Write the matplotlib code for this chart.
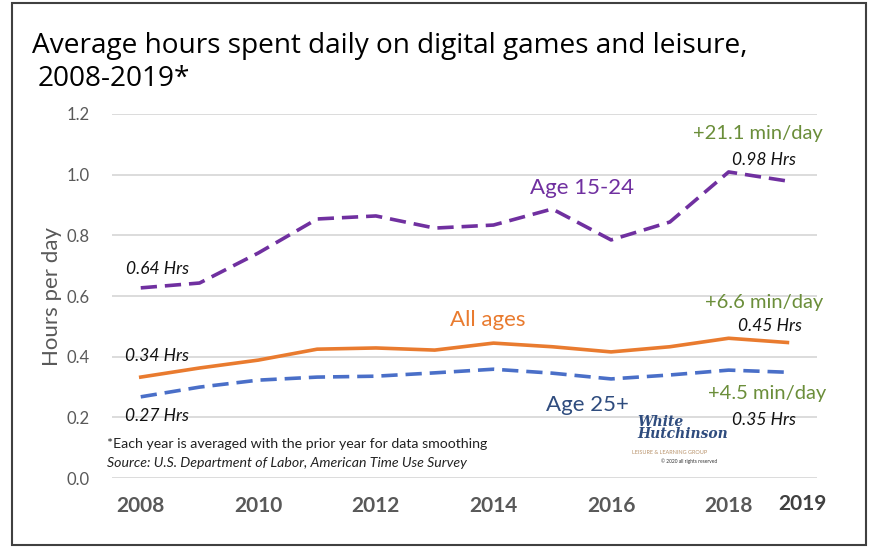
import matplotlib.pyplot as plt
from matplotlib.patches import Rectangle

plt.rcParams['font.family'] = ['Lato', 'DejaVu Sans']

years = [2008, 2009, 2010, 2011, 2012, 2013, 2014, 2015, 2016, 2017, 2018, 2019]
age_15_24 = [0.627, 0.643, 0.742, 0.854, 0.864, 0.824, 0.834, 0.887, 0.785, 0.844, 1.009, 0.979]
all_ages = [0.333, 0.363, 0.389, 0.425, 0.429, 0.422, 0.445, 0.433, 0.416, 0.433, 0.461, 0.447]
age_25_plus = [0.268, 0.300, 0.323, 0.333, 0.336, 0.347, 0.359, 0.346, 0.327, 0.340, 0.356, 0.349]
x_ticks = [2008, 2010, 2012, 2014, 2016, 2018]
y_ticks = [0.0, 0.2, 0.4, 0.6, 0.8, 1.0, 1.2]

purple = '#7030A0'
orange = '#E97B2F'
blue = '#4A6FC8'
navy = '#2F4C7E'
green = '#6B8E3A'
gray = '#595959'

fig = plt.figure(figsize=(8.8, 5.56), dpi=100)
ax = fig.add_axes([0.127, 0.140, 0.801, 0.655])

ax.plot(years, age_15_24, color=purple, lw=2.6, dashes=(4.5, 2.2))
ax.plot(years, all_ages, color=orange, lw=2.6)
ax.plot(years, age_25_plus, color=blue, lw=2.6, dashes=(4.5, 2.2))

ax.set_xlim(2007.507, 2019.497)
ax.set_ylim(0, 1.2)
ax.set_yticks(y_ticks)
ax.set_yticklabels(['%.1f' % v for v in y_ticks], color=gray, fontsize=12)
ax.set_xticks(x_ticks)
ax.set_xticklabels([str(v) for v in x_ticks], color=gray, fontsize=15, fontweight='bold')
ax.tick_params(axis='both', length=0)
ax.tick_params(axis='y', pad=16)
ax.tick_params(axis='x', pad=13)
ax.text(2019.25, -0.085, '2019', color='#404040', fontsize=15, fontweight='bold',
        ha='center', va='center')
for s in ax.spines.values():
    s.set_visible(False)
ax.grid(axis='y', color='#D9D9D9', lw=1.3)
ax.set_axisbelow(True)
ax.set_ylabel('Hours per day', color=gray, fontsize=16, labelpad=3)

# series labels
ax.text(2015.5, 0.955, 'Age 15-24', color=purple, fontsize=16, ha='center', va='center')
ax.text(2013.9, 0.52, 'All ages', color=orange, fontsize=16, ha='center', va='center')
ax.text(2015.6, 0.24, 'Age 25+', color=navy, fontsize=16, ha='center', va='center')

# change annotations
ax.text(2018.5, 1.135, '+21.1 min/day', color=green, fontsize=14.5, ha='center', va='center')
ax.text(2018.6, 0.58, '+6.6 min/day', color=green, fontsize=14.5, ha='center', va='center')
ax.text(2018.65, 0.28, '+4.5 min/day', color=green, fontsize=14.5, ha='center', va='center')

hrs_kw = dict(color='#111111', fontsize=12.5, style='italic', ha='center', va='center')
ax.text(2018.6, 1.05, '0.98 Hrs', **hrs_kw)
ax.text(2018.7, 0.5, '0.45 Hrs', **hrs_kw)
ax.text(2018.6, 0.19, '0.35 Hrs', **hrs_kw)
ax.text(2008.28, 0.69, '0.64 Hrs', **hrs_kw)
ax.text(2008.28, 0.403, '0.34 Hrs', **hrs_kw)
ax.text(2008.28, 0.205, '0.27 Hrs', **hrs_kw)

# footnote
ax.text(2007.43, 0.112, '*Each year is averaged with the prior year for data smoothing',
        color='#222222', fontsize=10.2, ha='left', va='center')
ax.text(2007.43, 0.05, 'Source: U.S. Department of Labor, American Time Use Survey',
        color='#222222', fontsize=10.2, style='italic', ha='left', va='center')

# logo text
ax.text(2016.45, 0.165, 'White\nHutchinson', color=navy, fontsize=10, style='italic',
        fontweight='bold', family='DejaVu Serif', ha='left', va='center', linespacing=0.75)
ax.text(2016.35, 0.085, 'LEISURE & LEARNING GROUP', color='#B8926A', fontsize=4,
        ha='left', va='center')
ax.text(2016.85, 0.055, '© 2020 all rights reserved', color='#333333', fontsize=3.5,
        ha='left', va='center')

fig.text(0.036, 0.918, 'Average hours spent daily on digital games and leisure,',
         fontsize=20.2, color='black', ha='left', va='center', family='Open Sans')
fig.text(0.043, 0.858, '2008-2019*', fontsize=20.2, color='black', ha='left', va='center',
         family='Open Sans')

fig.patches.append(Rectangle((0.014, 0.02), 0.970, 0.974, transform=fig.transFigure,
                             fill=False, edgecolor='#404040', lw=1.5))

plt.savefig('out.png', dpi=100)
